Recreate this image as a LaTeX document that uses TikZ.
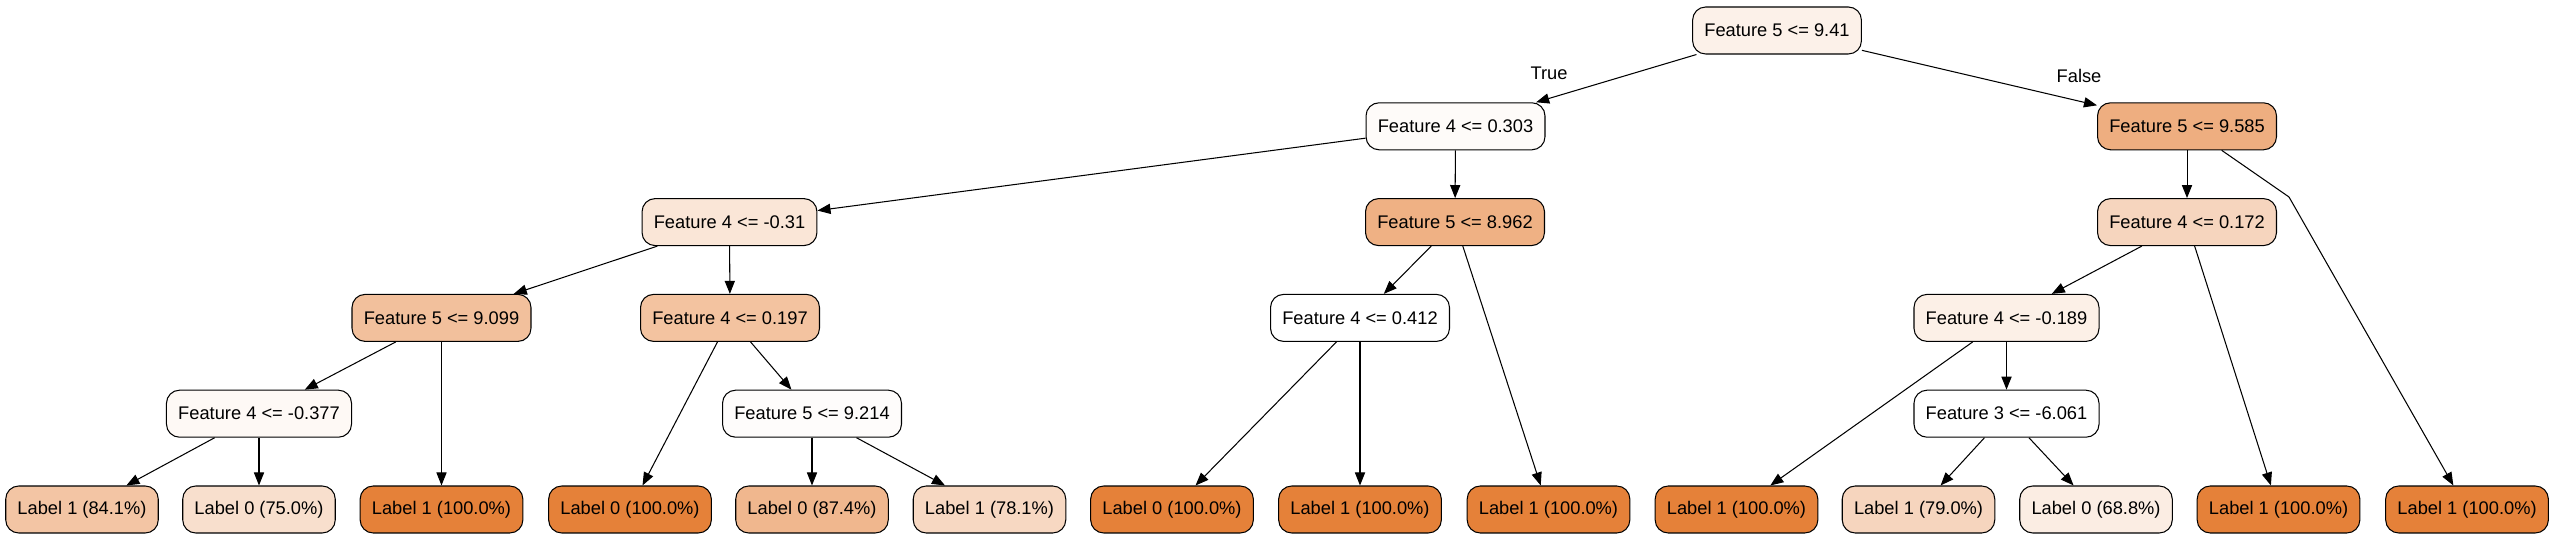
\documentclass[tikz,border=0pt]{standalone}
\usepackage{fontspec}
\setmainfont{Liberation Sans}
\usetikzlibrary{arrows.meta}
\definecolor{treeorange}{HTML}{E58139}

\begin{document}
\begin{tikzpicture}[x=0.766pt, y=-0.766pt, ->, >={Triangle[length=10pt,width=7.8pt]}, draw=black, line width=0.8pt]
      \tikzstyle{split}=[draw, rectangle, rounded corners=10pt, minimum height=36pt, inner xsep=9pt, font=\fontsize{14}{17}\selectfont]
      \tikzstyle{leaf}=[split]
      \tikzstyle{annot}=[font=\fontsize{14}{17}\selectfont]

      \useasboundingbox (0,0) rectangle (2554,539);

      % Draw the split nodes, row by row
      \node[split, fill=treeorange!11] (F-0) at (1777,30.5) {Feature 5 <= 9.41};

      \node[split, fill=treeorange!3] (F-1) at (1455.5,126.3) {Feature 4 <= 0.303};
      \node[split, fill=treeorange!64] (F-2) at (2187,126.3) {Feature 5 <= 9.585};

      \node[split, fill=treeorange!20] (F-3) at (729.5,222.1) {Feature 4 <= -0.31};
      \node[split, fill=treeorange!62] (F-4) at (1455,222.1) {Feature 5 <= 8.962};
      \node[split, fill=treeorange!33] (F-5) at (2187,222.1) {Feature 4 <= 0.172};

      \node[split, fill=treeorange!50] (F-6) at (441.5,317.9) {Feature 5 <= 9.099};
      \node[split, fill=treeorange!48] (F-7) at (730,317.9) {Feature 4 <= 0.197};
      \node[split, fill=white] (F-8) at (1360,317.9) {Feature 4 <= 0.412};
      \node[split, fill=treeorange!12] (F-9) at (2006.5,317.9) {Feature 4 <= -0.189};

      \node[split, fill=treeorange!5] (F-10) at (259,413.7) {Feature 4 <= -0.377};
      \node[split, fill=treeorange!2] (F-11) at (812,413.7) {Feature 5 <= 9.214};
      \node[split, fill=white] (F-12) at (2006.5,413.7) {Feature 3 <= -6.061};

      % Draw the leaf nodes
      \node[leaf, fill=treeorange!46] (L-1) at (82,509.5) {Label 1 (84.1\%)};
      \node[leaf, fill=treeorange!25] (L-2) at (259,509.5) {Label 0 (75.0\%)};
      \node[leaf, fill=treeorange] (L-3) at (441.5,509.5) {Label 1 (100.0\%)};
      \node[leaf, fill=treeorange] (L-4) at (630,509.5) {Label 0 (100.0\%)};
      \node[leaf, fill=treeorange!57] (L-5) at (812,509.5) {Label 0 (87.4\%)};
      \node[leaf, fill=treeorange!31] (L-6) at (989.5,509.5) {Label 1 (78.1\%)};
      \node[leaf, fill=treeorange] (L-7) at (1172,509.5) {Label 0 (100.0\%)};
      \node[leaf, fill=treeorange] (L-8) at (1360,509.5) {Label 1 (100.0\%)};
      \node[leaf, fill=treeorange] (L-9) at (1548.5,509.5) {Label 1 (100.0\%)};
      \node[leaf, fill=treeorange] (L-10) at (1736.5,509.5) {Label 1 (100.0\%)};
      \node[leaf, fill=treeorange!33] (L-11) at (1918.5,509.5) {Label 1 (79.0\%)};
      \node[leaf, fill=treeorange!14] (L-12) at (2096,509.5) {Label 0 (68.8\%)};
      \node[leaf, fill=treeorange] (L-13) at (2278.5,509.5) {Label 1 (100.0\%)};
      \node[leaf, fill=treeorange] (L-14) at (2467,509.5) {Label 1 (100.0\%)};

      % Connect every split with its two children
      \foreach \source/\dest in {F-0/F-1, F-0/F-2, F-1/F-3, F-1/F-4, F-2/F-5,
                                 F-3/F-6, F-3/F-7, F-4/F-8, F-4/L-9, F-5/F-9, F-5/L-13,
                                 F-6/F-10, F-6/L-3, F-7/L-4, F-7/F-11, F-8/L-7, F-8/L-8,
                                 F-9/L-10, F-9/F-12, F-10/L-1, F-10/L-2,
                                 F-11/L-5, F-11/L-6, F-12/L-11, F-12/L-12}
          \path (\source) edge (\dest);

      % The last edge goes round F-5
      \coordinate (bend) at (2289,197);
      \draw (F-2) -- (bend) -- (L-14);

      % Annotate the first split
      \node[annot] (t-true) at (1549,73) {True};
      \node[annot] (t-false) at (2079,76) {False};
\end{tikzpicture}
\end{document}
